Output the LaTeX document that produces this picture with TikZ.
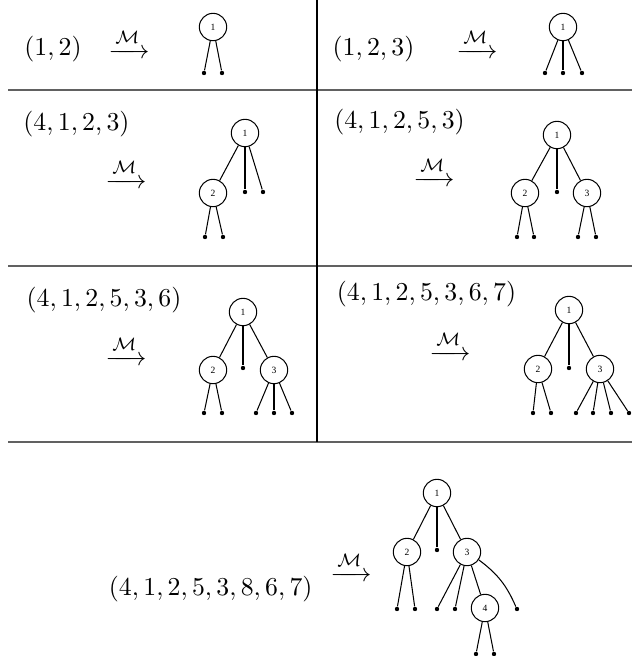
\documentclass[tikz,border=0pt]{standalone}
\usepackage{amsmath}
\usepackage{fontspec}
\newfontfamily\treefont{Liberation Serif}
\tikzset{
  tn/.style={circle, draw, line width=0.4pt, minimum size=10.6pt, inner sep=0pt,
             font=\treefont\fontsize{3.7}{4}\selectfont},
  lf/.style={circle, fill, inner sep=0pt, minimum size=1.7pt},
  seq/.style={anchor=base, inner sep=0pt},
  arr/.style={anchor=base, inner sep=0pt},
  tedge/.style={line width=0.4pt},
  hrule/.style={draw=black!62, line width=0.9pt},
  vrule/.style={draw=black, line width=0.6pt}
}
\begin{document}
\begin{tikzpicture}[x=0.3876pt, y=-0.3876pt]
\useasboundingbox (0,0) rectangle (632,656);
% table rules
\draw[hrule] (8,90) -- (632,90);
\draw[hrule] (8,266) -- (632,266);
\draw[hrule] (8,442) -- (632,442);
\draw[vrule] (317,0) -- (317,442);

% ---------- row 1 left
\node[seq] (s1) at (53,55) {$(1,2)$};
\node[arr] (m1) at (129,58.5) {$\xrightarrow{\mathcal{M}}$};
\node[tn] (a1) at (213,27) {1};
\node[lf] (a1l1) at (204,73) {};
\node[lf] (a1l2) at (222,73) {};
\draw[tedge] (a1) -- (a1l1);
\draw[tedge] (a1) -- (a1l2);

% ---------- row 1 right
\node[seq] (s2) at (373.5,55) {$(1,2,3)$};
\node[arr] (m2) at (477,58.5) {$\xrightarrow{\mathcal{M}}$};
\node[tn] (b1) at (563,27) {1};
\node[lf] (b1l1) at (545,73) {};
\node[lf] (b1l2) at (563,73) {};
\node[lf] (b1l3) at (582,73) {};
\draw[tedge] (b1) -- (b1l1);
\draw[tedge] (b1) -- (b1l2);
\draw[tedge] (b1) -- (b1l3);

% ---------- row 2 left
\node[seq] (s3) at (76.5,130) {$(4,1,2,3)$};
\node[arr] (m3) at (126,188.5) {$\xrightarrow{\mathcal{M}}$};
\node[tn] (c1) at (245,133) {1};
\node[tn] (c2) at (213,193) {2};
\node[lf] (c1m) at (245,192) {};
\node[lf] (c1r) at (263,192) {};
\node[lf] (c2l1) at (205,237) {};
\node[lf] (c2l2) at (223,237) {};
\draw[tedge] (c1) -- (c2);
\draw[tedge] (c1) -- (c1m);
\draw[tedge] (c1) -- (c1r);
\draw[tedge] (c2) -- (c2l1);
\draw[tedge] (c2) -- (c2l2);

% ---------- row 2 right
\node[seq] (s4) at (399.5,128) {$(4,1,2,5,3)$};
\node[arr] (m4) at (434,186.5) {$\xrightarrow{\mathcal{M}}$};
\node[tn] (d1) at (557,135) {1};
\node[tn] (d2) at (525,193) {2};
\node[tn] (d3) at (587,193) {3};
\node[lf] (d1m) at (557,192) {};
\node[lf] (d2l1) at (517,237) {};
\node[lf] (d2l2) at (534,237) {};
\node[lf] (d3l1) at (578,237) {};
\node[lf] (d3l2) at (596,237) {};
\draw[tedge] (d1) -- (d2);
\draw[tedge] (d1) -- (d1m);
\draw[tedge] (d1) -- (d3);
\draw[tedge] (d2) -- (d2l1);
\draw[tedge] (d2) -- (d2l2);
\draw[tedge] (d3) -- (d3l1);
\draw[tedge] (d3) -- (d3l2);

% ---------- row 3 left
\node[seq] (s5) at (104,306) {$(4,1,2,5,3,6)$};
\node[arr] (m5) at (126,365.5) {$\xrightarrow{\mathcal{M}}$};
\node[tn] (e1) at (243,312) {1};
\node[tn] (e2) at (213,370) {2};
\node[tn] (e3) at (274,370) {3};
\node[lf] (e1m) at (243,368) {};
\node[lf] (e2l1) at (204,413) {};
\node[lf] (e2l2) at (222,413) {};
\node[lf] (e3l1) at (256,413) {};
\node[lf] (e3l2) at (274,413) {};
\node[lf] (e3l3) at (292,413) {};
\draw[tedge] (e1) -- (e2);
\draw[tedge] (e1) -- (e1m);
\draw[tedge] (e1) -- (e3);
\draw[tedge] (e2) -- (e2l1);
\draw[tedge] (e2) -- (e2l2);
\draw[tedge] (e3) -- (e3l1);
\draw[tedge] (e3) -- (e3l2);
\draw[tedge] (e3) -- (e3l3);

% ---------- row 3 right
\node[seq] (s6) at (426.5,300) {$(4,1,2,5,3,6,7)$};
\node[arr] (m6) at (450,360.5) {$\xrightarrow{\mathcal{M}}$};
\node[tn] (f1) at (569,310) {1};
\node[tn] (f2) at (538,369) {2};
\node[tn] (f3) at (600,369) {3};
\node[lf] (f1m) at (569,368) {};
\node[lf] (f2l1) at (533,413) {};
\node[lf] (f2l2) at (551,413) {};
\node[lf] (f3l1) at (576,413) {};
\node[lf] (f3l2) at (593,413) {};
\node[lf] (f3l3) at (611,413) {};
\node[lf] (f3l4) at (629,413) {};
\draw[tedge] (f1) -- (f2);
\draw[tedge] (f1) -- (f1m);
\draw[tedge] (f1) -- (f3);
\draw[tedge] (f2) -- (f2l1);
\draw[tedge] (f2) -- (f2l2);
\draw[tedge] (f3) -- (f3l1);
\draw[tedge] (f3) -- (f3l2);
\draw[tedge] (f3) -- (f3l3);
\draw[tedge] (f3) -- (f3l4);

% ---------- bottom
\node[seq, anchor=base east] (s7) at (313,595) {$(4,1,2,5,3,8,6,7)$};
\node[arr] (m7) at (351,581.5) {$\xrightarrow{\mathcal{M}}$};
\node[tn] (g1) at (437,493) {1};
\node[tn] (g2) at (407,552) {2};
\node[tn] (g3) at (467,552) {3};
\node[tn] (g4) at (485,608) {4};
\node[lf] (g1m) at (437,550) {};
\node[lf] (g2l1) at (397,609) {};
\node[lf] (g2l2) at (415,609) {};
\node[lf] (g3l1) at (437,609) {};
\node[lf] (g3l2) at (455,609) {};
\node[lf] (g3l3) at (517,609) {};
\node[lf] (g4l1) at (476,654) {};
\node[lf] (g4l2) at (494,654) {};
\draw[tedge] (g1) -- (g2);
\draw[tedge] (g1) -- (g1m);
\draw[tedge] (g1) -- (g3);
\draw[tedge] (g2) -- (g2l1);
\draw[tedge] (g2) -- (g2l2);
\draw[tedge] (g3) -- (g3l1);
\draw[tedge] (g3) -- (g3l2);
\draw[tedge] (g3) -- (g4);
\draw[tedge] (g3) to[bend left=15] (g3l3);
\draw[tedge] (g4) -- (g4l1);
\draw[tedge] (g4) -- (g4l2);
\end{tikzpicture}
\end{document}
